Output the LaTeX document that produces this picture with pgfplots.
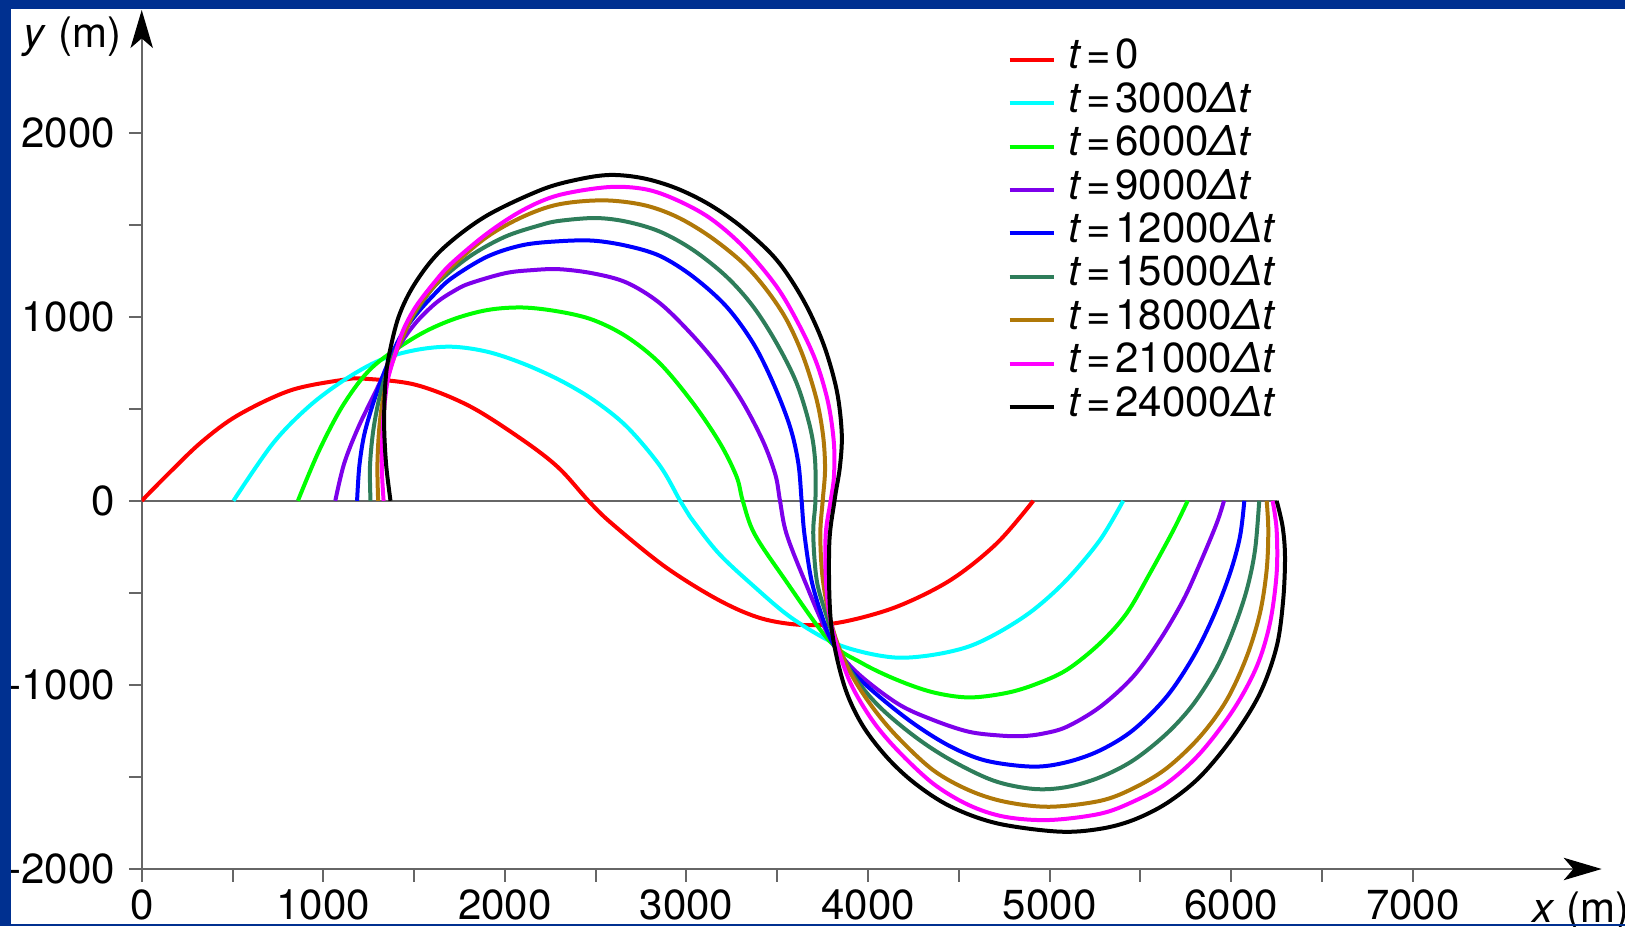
\documentclass[border=0pt]{standalone}
\usepackage{fontspec}
\setmainfont{TeX Gyre Heros}
\usepackage{pgfplots}
\pgfplotsset{compat=1.18}
\usetikzlibrary{arrows.meta}
\definecolor{frameblue}{HTML}{003090}
\definecolor{axisgray}{HTML}{666666}
\definecolor{cRed}{RGB}{255,0,0}
\definecolor{cCyan}{RGB}{0,255,255}
\definecolor{cGreen}{RGB}{0,255,0}
\definecolor{cPurple}{RGB}{125,0,235}
\definecolor{cBlue}{RGB}{0,0,255}
\definecolor{cTeal}{HTML}{2E7D5A}
\definecolor{cBrown}{HTML}{B07808}
\definecolor{cMagenta}{RGB}{255,0,255}
\newcommand{\lbl}{\fontsize{10.5}{12}\selectfont}
\newcommand{\tdt}[1]{\textit{t}\kern1.2pt=\kern1.2pt#1}

\begin{document}
\begin{tikzpicture}
\begin{axis}[
  at={(0,0)}, anchor=south west,
  scale only axis, width=365pt, height=214.75pt,
  xmin=0, xmax=8040, ymin=-2000, ymax=2666,
  axis x line=bottom, axis y line=left,
  axis line style={draw=axisgray, line width=0.5pt,
    -{Stealth[length=9.5pt,width=5.6pt,inset=2.4pt,color=black]}},
  xtick={0,1000,...,7000}, minor xtick={500,1500,...,6500},
  ytick={-2000,-1000,...,2000}, minor ytick={-1500,-500,500,1500},
  tick align=outside, major tick length=3.2pt, minor tick length=3.2pt,
  tick style={axisgray, line width=0.5pt},
  scaled ticks=false,
  /pgf/number format/1000 sep={},
  /pgf/number format/assume math mode=true,
  ticklabel style={font=\lbl},
  xticklabel style={yshift=1.6pt},
  every axis y label/.style={at={(axis description cs:0,1)}, anchor=base east,
    xshift=-1.6pt, yshift=-9.3pt, font=\lbl},
  every axis x label/.style={at={(axis description cs:1,0)}, anchor=base east,
    xshift=10.4pt, yshift=-13.4pt, font=\lbl},
  xlabel={\textit{x} (m)}, ylabel={\textit{y} (m)},
  legend image code/.code={\draw[#1] (0pt,0pt) -- (11pt,0pt);},
  legend style={at={(axis cs:4764,2518)}, anchor=north west, draw=none, fill=none,
    inner sep=0pt, row sep=0pt, font=\lbl,
    nodes={inner sep=0pt, text height=7.7pt, text depth=3.15pt},
    /tikz/every odd column/.append style={column sep=3.1pt}},
  legend cell align=left,
  every axis plot/.append style={line width=1pt, smooth, tension=0.55},
]
\addplot[axisgray, line width=0.5pt, sharp plot, forget plot] coordinates {(0,0) (6250,0)};

\addplot[cRed] coordinates {(0,0) (150,150) (330,320) (530,465) (820,600) (1115,658) (1230,663) (1509,630) (1804,515) (2099,330) (2295,180) (2460,0) (2587,-122) (2882,-358) (3177,-539) (3413,-639) (3649,-675) (3865,-657) (4159,-575) (4455,-430) (4710,-230) (4910,0)};
\addlegendentry{\tdt{0}}

\addplot[cCyan] coordinates {(505,0) (722,311) (919,511) (1115,656) (1312,764) (1509,819) (1705,837) (1902,810) (2099,746) (2303,655) (2487,548) (2671,403) (2854,190) (2965,0) (3019,-86) (3177,-285) (3373,-466) (3570,-630) (3786,-760) (3963,-820) (4160,-852) (4357,-837) (4553,-792) (4726,-711) (4910,-593) (5093,-430) (5277,-213) (5405,0)};
\addlegendentry{\tdt{3000\textit{Δt}}}

\addplot[cGreen] coordinates {(860,0) (978,275) (1115,529) (1273,728) (1509,891) (1705,982) (1902,1036) (2099,1050) (2303,1027) (2487,982) (2671,891) (2854,746) (3037,529) (3185,312) (3276,131) (3310,0) (3373,-177) (3531,-412) (3786,-760) (3963,-880) (4160,-973) (4357,-1040) (4553,-1068) (4750,-1046) (4910,-1001) (5093,-919) (5277,-774) (5424,-611) (5552,-394) (5681,-160) (5760,0)};
\addlegendentry{\tdt{6000\textit{Δt}}}

\addplot[cPurple] coordinates {(1066,0) (1115,203) (1194,402) (1292,601) (1370,760) (1450,890) (1530,990) (1627,1080) (1720,1140) (1804,1180) (2000,1236) (2150,1253) (2300,1258) (2487,1235) (2671,1185) (2854,1073) (3037,895) (3185,720) (3313,530) (3423,320) (3490,140) (3515,0) (3550,-177) (3649,-430) (3786,-738) (3924,-919) (4160,-1100) (4357,-1190) (4553,-1254) (4726,-1275) (4850,-1278) (4960,-1265) (5093,-1228) (5277,-1120) (5460,-955) (5607,-756) (5736,-539) (5828,-340) (5920,-122) (5960,0)};
\addlegendentry{\tdt{9000\textit{Δt}}}

\addplot[cBlue] coordinates {(1186,0) (1198,185) (1223,348) (1263,493) (1312,637) (1371,782) (1430,900) (1509,1009) (1607,1117) (1705,1208) (1902,1326) (2099,1389) (2300,1410) (2487,1413) (2671,1385) (2854,1330) (3037,1217) (3221,1054) (3368,855) (3478,638) (3570,403) (3616,204) (3634,0) (3649,-177) (3688,-430) (3747,-629) (3806,-774) (3904,-919) (4062,-1064) (4258,-1215) (4455,-1335) (4651,-1412) (4907,-1444) (5093,-1420) (5277,-1356) (5460,-1245) (5644,-1064) (5791,-847) (5901,-629) (5993,-394) (6048,-195) (6072,0)};
\addlegendentry{\tdt{12000\textit{Δt}}}

\addplot[cTeal] coordinates {(1260,0) (1257,185) (1273,366) (1302,529) (1341,674) (1391,800) (1450,927) (1528,1054) (1627,1181) (1804,1326) (2000,1434) (2197,1498) (2303,1521) (2500,1536) (2671,1516) (2854,1462) (3037,1362) (3221,1217) (3368,1054) (3497,855) (3607,638) (3680,403) (3708,222) (3710,0) (3698,-177) (3717,-430) (3767,-611) (3825,-774) (3924,-955) (4062,-1118) (4258,-1281) (4455,-1408) (4691,-1520) (4910,-1565) (5093,-1555) (5277,-1502) (5460,-1410) (5644,-1265) (5791,-1105) (5920,-905) (6011,-702) (6085,-485) (6131,-267) (6154,0)};
\addlegendentry{\tdt{15000\textit{Δt}}}

\addplot[cBrown] coordinates {(1302,0) (1298,185) (1306,366) (1322,511) (1351,656) (1391,782) (1450,918) (1509,1036) (1607,1163) (1705,1271) (1902,1434) (2099,1543) (2295,1610) (2540,1632) (2762,1607) (2946,1543) (3130,1435) (3313,1290) (3442,1145) (3552,982) (3643,783) (3717,548) (3753,348) (3763,167) (3750,0) (3737,-177) (3747,-394) (3776,-575) (3825,-756) (3904,-937) (4022,-1118) (4160,-1281) (4357,-1462) (4553,-1571) (4750,-1634) (4995,-1662) (5277,-1630) (5460,-1562) (5644,-1453) (5828,-1281) (5975,-1082) (6085,-847) (6158,-611) (6195,-376) (6204,-159) (6195,0)};
\addlegendentry{\tdt{18000\textit{Δt}}}

\addplot[cMagenta] coordinates {(1332,0) (1322,185) (1326,366) (1336,511) (1355,656) (1391,782) (1440,927) (1509,1054) (1607,1181) (1705,1289) (1902,1452) (2099,1579) (2295,1660) (2570,1704) (2775,1692) (2946,1634) (3130,1535) (3313,1380) (3497,1163) (3625,946) (3717,747) (3781,529) (3812,312) (3812,131) (3794,0) (3767,-177) (3767,-412) (3786,-611) (3825,-774) (3904,-992) (4022,-1190) (4160,-1353) (4357,-1535) (4553,-1652) (4750,-1716) (4995,-1734) (5277,-1700) (5460,-1634) (5644,-1535) (5828,-1372) (6011,-1136) (6140,-901) (6213,-665) (6250,-394) (6250,-159) (6228,0)};
\addlegendentry{\tdt{21000\textit{Δt}}}

\addplot[black] coordinates {(1370,0) (1347,185) (1336,366) (1336,511) (1343,656) (1360,782) (1415,1000) (1505,1181) (1650,1362) (1890,1543) (2197,1688) (2400,1745) (2580,1770) (2762,1752) (2946,1697) (3130,1607) (3313,1480) (3497,1308) (3643,1091) (3753,855) (3827,602) (3855,367) (3845,185) (3815,0) (3786,-244) (3796,-666) (3865,-992) (3963,-1209) (4101,-1390) (4258,-1535) (4455,-1661) (4710,-1752) (5050,-1797) (5277,-1782) (5460,-1734) (5644,-1643) (5828,-1499) (6011,-1281) (6158,-1046) (6250,-792) (6286,-539) (6296,-304) (6283,-141) (6250,0)};
\addlegendentry{\tdt{24000\textit{Δt}}}
\end{axis}
\fill[frameblue] (-35.43pt,-14.25pt) rectangle (-32.68pt,217.25pt);
\fill[frameblue] (-35.43pt,215pt) rectangle (370.83pt,217.25pt);
\fill[frameblue] (-35.43pt,-14.25pt) rectangle (370.83pt,-13.85pt);
\pgfresetboundingbox
\useasboundingbox (-35.43pt,-14.25pt) rectangle (370.83pt,217.25pt);
\end{tikzpicture}
\end{document}
